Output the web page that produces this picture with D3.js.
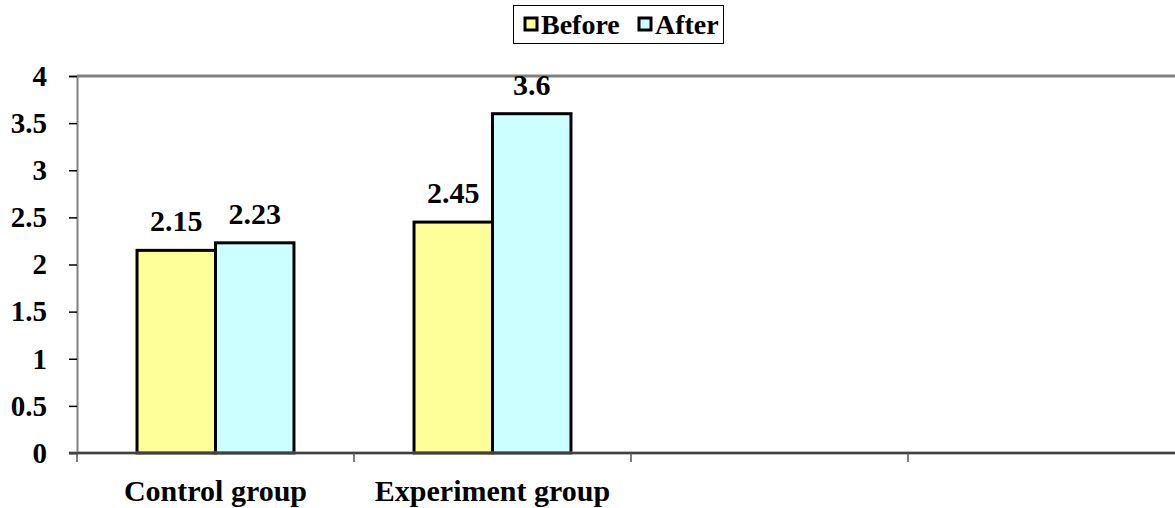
<!DOCTYPE html>
<html>
<head>
<meta charset="utf-8">
<script src="https://cdn.jsdelivr.net/npm/d3@7"></script>
<style>
  body { margin: 0; background: #fff; }
  svg { display: block; overflow: hidden; }
</style>
</head>
<body>
<div id="chart"></div>
<script>
// chart data
var categories = ["Control group", "Experiment group", "", " "];
var seriesNames = ["Before", "After"];
var beforeValues = [2.15, 2.45, null, null];
var afterValues = [2.23, 3.6, null, null];
var yTicks = [0, 0.5, 1, 1.5, 2, 2.5, 3, 3.5, 4];
var colors = ["#FFFF99", "#CCFFFF"];

var W = 1175, H = 508;
var margin = {top: 76, left: 77, bottom: 55};
var plotRight = 1185; // plot runs past the window edge
var height = H - margin.top - margin.bottom;
var FONT = "Liberation Serif";

var svg = d3.select("#chart")
    .append("svg")
        .attr("width", W)
        .attr("height", H);

var x = d3.scaleBand().domain(categories).range([margin.left, plotRight]);
var sub = d3.scaleBand().domain(seriesNames).range([0, x.bandwidth()]).paddingOuter(0.765);
var y = d3.scaleLinear().domain([0, 4]).range([margin.top + height, margin.top]);

// top border
svg.append("line")
    .attr("x1", margin.left).attr("x2", plotRight)
    .attr("y1", y(4)).attr("y2", y(4))
    .attr("stroke", "#808080").attr("stroke-width", 3);

// y axis
var yAxis = svg.append("g")
    .attr("transform", "translate(" + margin.left + ",0)")
    .call(d3.axisLeft(y).tickValues(yTicks).tickFormat(d => String(d)).tickSize(8).tickPadding(22));
yAxis.select(".domain").attr("stroke", "#808080").attr("stroke-width", 2);
yAxis.selectAll(".tick line").attr("stroke", "#000").attr("stroke-width", 1.5);
yAxis.selectAll("text").attr("fill", "#000").attr("font-size", 29);

// bars
var rows = categories.map((c, i) => ({cat: c, values: [beforeValues[i], afterValues[i]]}));
var groups = svg.append("g").selectAll("g")
    .data(rows)
    .join("g")
        .attr("transform", d => "translate(" + x(d.cat) + ",0)");

groups.selectAll("rect")
    .data(d => d.values.map((v, j) => ({name: seriesNames[j], value: v, color: colors[j]})).filter(e => e.value != null))
    .join("rect")
        .attr("x", d => sub(d.name))
        .attr("y", d => y(d.value))
        .attr("width", sub.bandwidth())
        .attr("height", d => y(0) - y(d.value))
        .attr("fill", d => d.color)
        .attr("stroke", "#000")
        .attr("stroke-width", 3);

groups.selectAll("text.val")
    .data(d => d.values.map((v, j) => ({name: seriesNames[j], value: v})).filter(e => e.value != null))
    .join("text")
        .attr("class", "val")
        .attr("x", d => sub(d.name) + sub.bandwidth() / 2)
        .attr("y", d => y(d.value) - 19)
        .attr("text-anchor", "middle")
        .attr("font-size", 30)
        .text(d => d.value);

// x axis
var xAxis = svg.append("g")
    .attr("transform", "translate(0," + y(0) + ")");
xAxis.append("line")
    .attr("x1", margin.left - 8).attr("x2", plotRight)
    .attr("stroke", "#808080").attr("stroke-width", 3);
xAxis.append("line")
    .attr("x1", margin.left - 8).attr("x2", plotRight)
    .attr("stroke", "#000").attr("stroke-width", 1);
xAxis.selectAll("line.tick")
    .data(categories)
    .join("line")
        .attr("class", "tick")
        .attr("x1", d => x(d)).attr("x2", d => x(d))
        .attr("y1", 0).attr("y2", 9)
        .attr("stroke", "#555").attr("stroke-width", 1.5);
xAxis.selectAll("text")
    .data(categories)
    .join("text")
        .attr("x", d => x(d) + x.bandwidth() / 2)
        .attr("y", 48)
        .attr("text-anchor", "middle")
        .attr("font-size", 30)
        .text(d => d.trim());

// legend
var legend = svg.append("g");
legend.append("rect")
    .attr("x", 513.5).attr("y", 5.5)
    .attr("width", 210).attr("height", 38)
    .attr("fill", "#fff").attr("stroke", "#000").attr("stroke-width", 1);
var legX = [525, 639];
seriesNames.forEach(function(s, i) {
    legend.append("rect")
        .attr("x", legX[i]).attr("y", 18)
        .attr("width", 12).attr("height", 12)
        .attr("fill", colors[i]).attr("stroke", "#000").attr("stroke-width", 3);
    legend.append("text")
        .attr("x", legX[i] + 16).attr("y", 34)
        .attr("font-size", 28)
        .text(s);
});

// every label in bold Times-like serif
svg.selectAll("text")
    .attr("font-family", FONT)
    .attr("font-weight", "bold");
</script>
</body>
</html>
